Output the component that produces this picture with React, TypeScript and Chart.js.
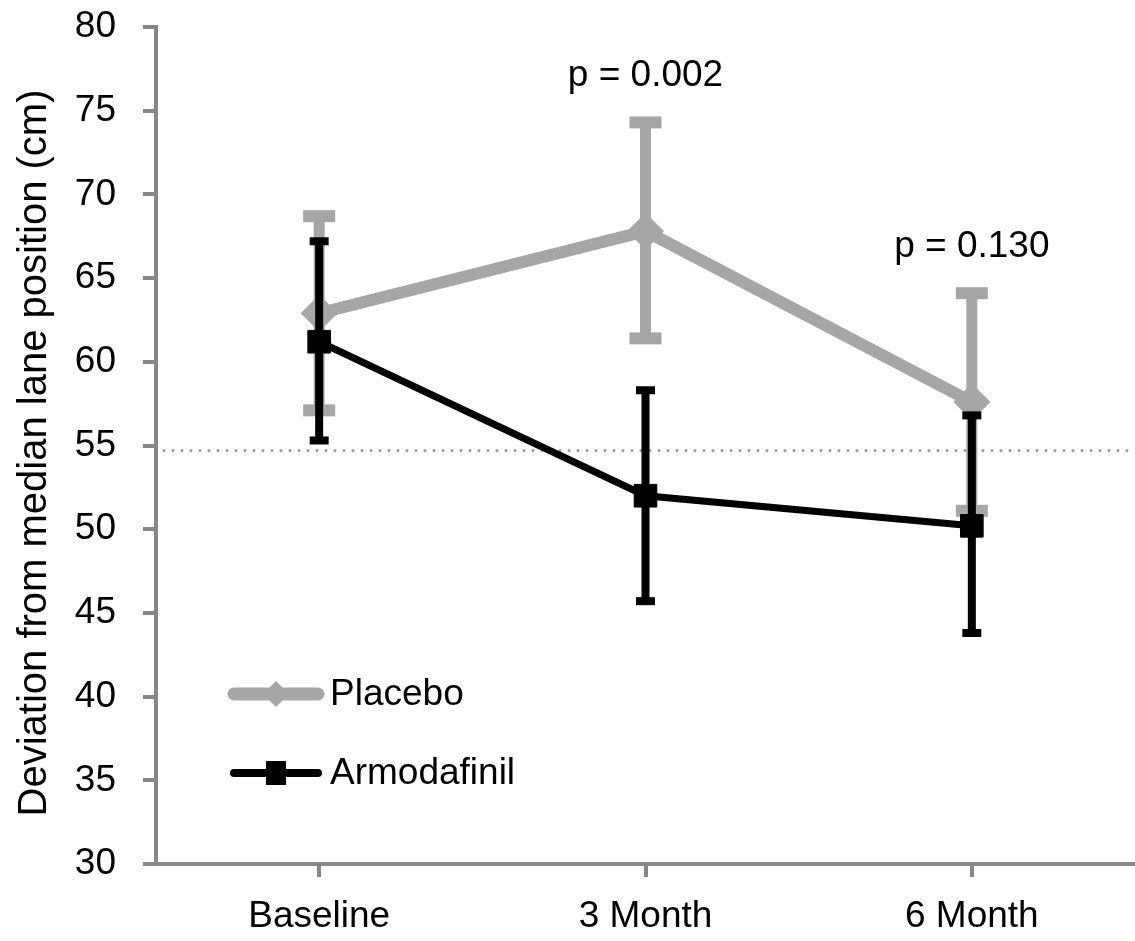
import React, { useEffect, useRef } from 'react';
import { Chart, registerables } from 'chart.js';

Chart.register(...registerables);

// ---- data ----
const categories = ['Baseline', '3 Month', '6 Month'];
const placeboMean = [62.9, 67.8, 57.6];
const placeboUpper = [68.7, 74.3, 64.1];
const placeboLower = [57.1, 61.4, 51.1];
const armoMean = [61.2, 52.0, 50.2];
const armoUpper = [67.2, 58.3, 56.8];
const armoLower = [55.3, 45.7, 43.8];
const pValueLabels = ['', 'p = 0.002', 'p = 0.130'];
const referenceLevel = 54.7;
const yMin = 30;
const yMax = 80;
const yStep = 5;
const yTitle = 'Deviation from median lane position (cm)';
const seriesNames = ['Placebo', 'Armodafinil'];

// ---- style ----
const FONT = '"Liberation Sans", Arial, Helvetica, sans-serif';
const GRAY = '#a6a6a6';
const AXIS = '#878787';
const W = 1135;
const H = 941;

const errorBarPlugin = {
  id: 'errorBars',
  beforeDatasetDraw(chart: any, args: any) {
    const ds: any = chart.data.datasets[args.index];
    const eb = ds.errorBars;
    if (!eb) return;
    const ctx = chart.ctx;
    const ys = chart.scales.y;
    ctx.save();
    ctx.fillStyle = eb.color;
    args.meta.data.forEach((pt: any, i: number) => {
      const x = pt.x;
      const yT = ys.getPixelForValue(eb.upper[i]);
      const yB = ys.getPixelForValue(eb.lower[i]);
      ctx.fillRect(x - eb.width / 2, yT, eb.width, yB - yT);
      ctx.fillRect(x - eb.capW / 2, yT - eb.capH / 2, eb.capW, eb.capH);
      ctx.fillRect(x - eb.capW / 2, yB - eb.capH / 2, eb.capW, eb.capH);
    });
    ctx.restore();
  },
};

const decorPlugin = {
  id: 'decor',
  beforeDatasetsDraw(chart: any) {
    const ctx = chart.ctx;
    const ys = chart.scales.y;
    const y = ys.getPixelForValue(referenceLevel);
    ctx.save();
    ctx.strokeStyle = '#9a9a9a';
    ctx.lineWidth = 3;
    ctx.lineCap = 'round';
    ctx.setLineDash([0, 9]);
    ctx.beginPath();
    ctx.moveTo(chart.chartArea.left + 8, y);
    ctx.lineTo(chart.chartArea.right, y);
    ctx.stroke();
    ctx.restore();
  },
  afterDraw(chart: any) {
    const ctx = chart.ctx;
    const ys = chart.scales.y;
    const xs = chart.scales.x;
    ctx.save();
    // y-axis title
    ctx.fillStyle = '#000';
    ctx.font = `40px ${FONT}`;
    ctx.textAlign = 'center';
    ctx.textBaseline = 'alphabetic';
    ctx.translate(46, 453);
    ctx.rotate(-Math.PI / 2);
    ctx.fillText(yTitle, 0, 0);
    ctx.restore();
    ctx.save();

    // p-value annotations
    ctx.fillStyle = '#000';
    ctx.font = `37px ${FONT}`;
    ctx.textAlign = 'center';
    ctx.textBaseline = 'alphabetic';
    pValueLabels.forEach((lbl, i) => {
      if (!lbl) return;
      const x = xs.getPixelForValue(i);
      const y = ys.getPixelForValue(placeboUpper[i]) - 36;
      ctx.fillText(lbl, x, y);
    });

    // legend
    const items = [
      { name: seriesNames[0], color: GRAY, lw: 13, y: 694, marker: 'diamond' },
      { name: seriesNames[1], color: '#000', lw: 8, y: 773, marker: 'rect' },
    ];
    items.forEach((it) => {
      ctx.strokeStyle = it.color;
      ctx.fillStyle = it.color;
      ctx.lineWidth = it.lw;
      ctx.lineCap = 'round';
      ctx.beginPath();
      ctx.moveTo(234, it.y);
      ctx.lineTo(318, it.y);
      ctx.stroke();
      const cx = 276;
      if (it.marker === 'diamond') {
        ctx.beginPath();
        ctx.moveTo(cx - 13, it.y);
        ctx.lineTo(cx, it.y - 13);
        ctx.lineTo(cx + 13, it.y);
        ctx.lineTo(cx, it.y + 13);
        ctx.closePath();
        ctx.fill();
      } else {
        ctx.fillRect(cx - 10, it.y - 12, 20, 24);
      }
      ctx.fillStyle = '#000';
      ctx.font = `37px ${FONT}`;
      ctx.textAlign = 'left';
      ctx.textBaseline = 'middle';
      ctx.fillText(it.name, 330, it.y + 1);
    });
    ctx.restore();
  },
};

export default function App() {
  const ref = useRef<HTMLCanvasElement | null>(null);
  useEffect(() => {
    if (!ref.current) return;
    Chart.defaults.font.family = FONT;
    const chart = new Chart(ref.current, {
      type: 'line',
      data: {
        labels: categories,
        datasets: [
          {
            label: seriesNames[0],
            data: placeboMean,
            borderColor: GRAY,
            backgroundColor: GRAY,
            borderWidth: 12,
            pointStyle: 'rectRot',
            pointRadius: 18,
            pointBorderWidth: 1,
            pointBackgroundColor: GRAY,
            pointBorderColor: GRAY,
            tension: 0,
            order: 2,
            clip: false,
            errorBars: {
              upper: placeboUpper,
              lower: placeboLower,
              color: GRAY,
              width: 11,
              capW: 32,
              capH: 12,
            },
          } as any,
          {
            label: seriesNames[1],
            data: armoMean,
            borderColor: '#000',
            backgroundColor: '#000',
            borderWidth: 7,
            pointStyle: 'rect',
            pointRadius: 16,
            pointBorderWidth: 1,
            pointBackgroundColor: '#000',
            pointBorderColor: '#000',
            tension: 0,
            order: 1,
            clip: false,
            errorBars: {
              upper: armoUpper,
              lower: armoLower,
              color: '#000',
              width: 8,
              capW: 19,
              capH: 8,
            },
          } as any,
        ],
      },
      options: {
        responsive: false,
        maintainAspectRatio: false,
        devicePixelRatio: 1,
        animation: false,
        layout: { autoPadding: false, padding: { left: 0, top: 27, right: 0, bottom: 0 } },
        plugins: {
          legend: { display: false },
          tooltip: { enabled: false },
        },
        scales: {
          x: {
            type: 'category',
            offset: true,
            grid: {
              display: true,
              drawOnChartArea: false,
              drawTicks: true,
              tickLength: 13,
              color: AXIS,
              lineWidth: 4,
              offset: false,
            },
            border: { display: true, color: AXIS, width: 4 },
            ticks: { color: '#000', font: { size: 37, family: FONT }, padding: 18, maxRotation: 0 },
            afterFit: (s: any) => {
              s.height = 77;
              s.paddingLeft = 0;
              s.paddingRight = 0;
            },
          },
          y: {
            min: yMin,
            max: yMax,
            grid: {
              display: true,
              drawOnChartArea: false,
              drawTicks: true,
              tickLength: 13,
              color: AXIS,
              lineWidth: 4,
            },
            border: { display: true, color: AXIS, width: 4 },
            ticks: { stepSize: yStep, color: '#000', font: { size: 37, family: FONT }, padding: 27 },
            afterFit: (s: any) => {
              s.width = 156;
              s.paddingTop = 0;
              s.paddingBottom = 0;
            },
          },
        },
      } as any,
      plugins: [errorBarPlugin, decorPlugin],
    });
    return () => chart.destroy();
  }, []);

  return (
    <div style={{ position: 'absolute', left: 0, top: 0, width: W, height: H, background: '#fff', overflow: 'hidden' }}>
      <canvas ref={ref} width={W} height={H} style={{ width: W, height: H, display: 'block' }} />
    </div>
  );
}
